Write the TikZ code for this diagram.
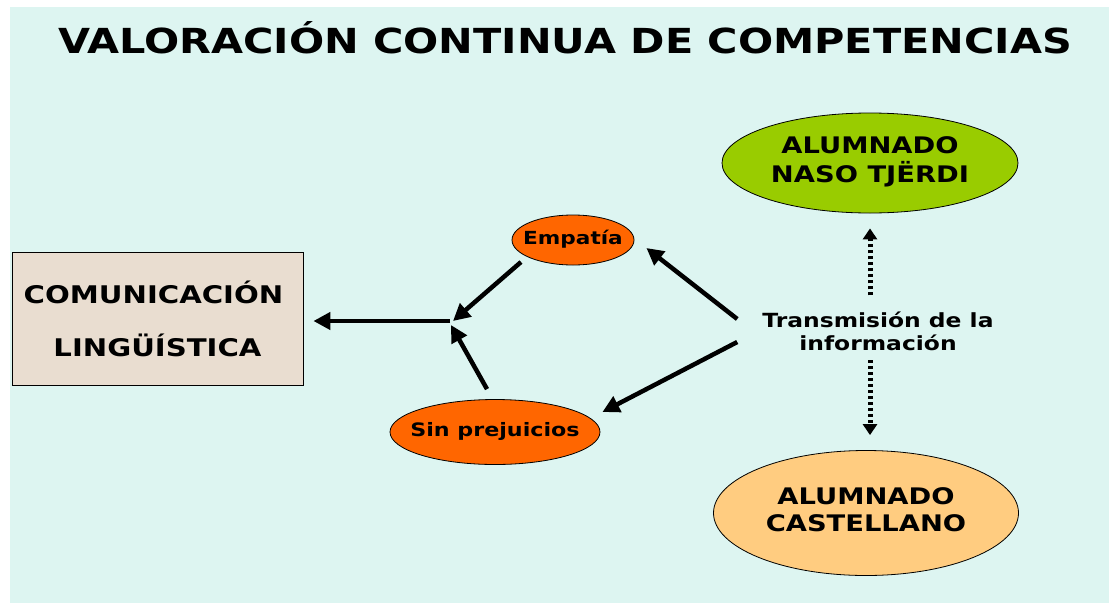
\documentclass[tikz,border=0pt]{standalone}
\usepackage{fontspec}
\setmainfont{DejaVu Sans}[FakeStretch=1.2]
\usetikzlibrary{shapes.geometric,arrows.meta}
\definecolor{bgc}{HTML}{DDF5F1}
\definecolor{boxc}{HTML}{E9DDD0}
\definecolor{orng}{HTML}{FF6600}
\definecolor{grn}{HTML}{99CC00}
\definecolor{lorng}{HTML}{FFCC80}
\newcommand\zerowd[1]{\makebox[0pt]{\begin{tabular}{@{}c@{}}#1\end{tabular}}}
\tikzset{
  oval/.style={ellipse, draw=black, line width=0.8pt, inner sep=0pt},
  bigarrow/.style={line width=4.5pt, -{Triangle[length=17pt,width=17pt]}},
  dotarrow/.style={line width=5pt, dash pattern=on 3pt off 3pt, -{Triangle[length=11pt,width=14pt]}},
}
\begin{document}
\begin{tikzpicture}[x=1pt,y=-1pt]
\useasboundingbox (0,0) rectangle (1109,603);
\fill[bgc] (10,7) rectangle (1109,603);
\node[font=\bfseries\fontsize{34.5}{38}\selectfont] (title) at (565,38) {VALORACIÓN CONTINUA DE COMPETENCIAS};
\node[draw=black, line width=0.8pt, fill=boxc, minimum width=291pt, minimum height=133pt, inner sep=0pt,
      align=center, font=\bfseries\fontsize{24.3}{53}\selectfont] (box) at (157.5,318.5) {\hspace*{-8pt}COMUNICACIÓN\\LINGÜÍSTICA};
\node[oval, fill=orng, minimum width=122pt, minimum height=50pt, font=\bfseries\fontsize{18}{20}\selectfont] (emp) at (573,240) {\zerowd{Empatía}};
\node[oval, fill=orng, minimum width=210pt, minimum height=65pt, font=\bfseries\fontsize{18.5}{20}\selectfont] (sin) at (495,432) {\zerowd{Sin prejuicios}};
\node[oval, fill=grn, minimum width=296pt, minimum height=100pt, font=\bfseries\fontsize{22.8}{25}\selectfont] (naso) at (870,163) {\zerowd{ALUMNADO\\NASO TJËRDI}};
\node[oval, fill=lorng, minimum width=305pt, minimum height=125pt, font=\bfseries\fontsize{22.8}{27}\selectfont] (cast) at (866,513) {\zerowd{ALUMNADO\\CASTELLANO}};
\node[align=center, inner sep=0pt, font=\bfseries\fontsize{19.5}{23}\selectfont] (trans) at (878,331) {Transmisión de la\\información};
\coordinate (J) at (450,321);
\draw[bigarrow] ([xshift=-25pt,yshift=12pt]trans.west) -- ([xshift=12pt,yshift=-8pt]emp.east);
\draw[bigarrow] ([xshift=-25pt,yshift=-11pt]trans.west) -- ([xshift=2pt,yshift=20pt]sin.east);
\draw[bigarrow] ([xshift=-52pt,yshift=-22pt]emp.center) -- ([xshift=3pt]J);
\draw[bigarrow] ([xshift=-8pt,yshift=10pt]sin.north) -- ([xshift=1pt,yshift=-4pt]J);
\draw[bigarrow, shorten >=10pt] (J) -- (J -| box.east);
\draw[dotarrow] ([yshift=-82pt]naso.south) -- ([yshift=-15pt]naso.south);
\draw[dotarrow] ([xshift=4pt,yshift=90pt]cast.north) -- ([xshift=4pt,yshift=15pt]cast.north);
\end{tikzpicture}
\end{document}
